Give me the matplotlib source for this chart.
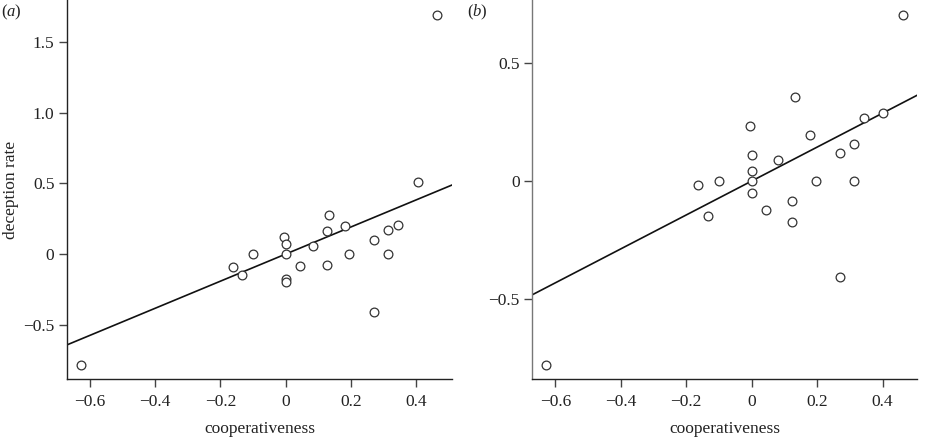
import matplotlib
matplotlib.use("Agg")
import matplotlib.pyplot as plt

plt.rcParams['font.family'] = ['Liberation Serif', 'DejaVu Serif']
plt.rcParams['mathtext.fontset'] = 'custom'
plt.rcParams['mathtext.rm'] = 'Liberation Serif'
plt.rcParams['mathtext.it'] = 'Liberation Serif:italic'
plt.rcParams['axes.unicode_minus'] = True

# Panel (a)
xa = [-0.627, -0.163, -0.133, -0.100, -0.005, 0.0, 0.0, 0.0, 0.0, 0.045, 0.082,
      0.125, 0.125, 0.133, 0.181, 0.195, 0.270, 0.270, 0.312, 0.313, 0.344, 0.405, 0.464]
ya = [-0.784, -0.092, -0.146, 0.0, 0.120, 0.073, 0.0, -0.174, -0.196, -0.082, 0.057,
      -0.075, 0.165, 0.278, 0.198, 0.0, 0.099, -0.407, 0.0, 0.172, 0.205, 0.507, 1.687]
slope_a, icpt_a = 0.958, 0.0

# Panel (b)
xb = [0.463, 0.131, -0.004, 0.402, 0.342, 0.179, 0.312, 0.269, 0.0, 0.080, 0.0,
      -0.165, -0.101, 0.0, 0.195, 0.312, 0.0, 0.123, 0.044, -0.134, 0.123, 0.269, -0.627]
yb = [0.704, 0.358, 0.232, 0.290, 0.268, 0.197, 0.159, 0.120, 0.112, 0.091, 0.041,
      -0.016, 0.0, 0.0, 0.0, 0.0, -0.051, -0.085, -0.123, -0.147, -0.174, -0.407, -0.782]
slope_b, icpt_b = 0.721, 0.0

xticks = [-0.6, -0.4, -0.2, 0, 0.2, 0.4]
xticklabels = ['\u22120.6', '\u22120.4', '\u22120.2', '0', '0.2', '0.4']
yticks_a = [-0.5, 0, 0.5, 1.0, 1.5]
yticklabels_a = ['\u22120.5', '0', '0.5', '1.0', '1.5']
yticks_b = [-0.5, 0, 0.5]
yticklabels_b = ['\u22120.5', '0', '0.5']

fig = plt.figure(figsize=(9.25, 4.4), dpi=100)
axa = fig.add_axes([0.0724, 0.1386, 0.4162, 0.8614])
axb = fig.add_axes([0.5755, 0.1386, 0.4162, 0.8614])

fs = 12.5

def style(ax, xlim, ylim, yt, ytl, leftcolor):
    ax.set_xlim(*xlim)
    ax.set_ylim(*ylim)
    for s in ['top', 'right']:
        ax.spines[s].set_visible(False)
    ax.spines['left'].set_color(leftcolor)
    ax.spines['bottom'].set_color('#222222')
    ax.spines['left'].set_linewidth(1.0)
    ax.spines['bottom'].set_linewidth(1.0)
    ax.set_xticks(xticks)
    ax.set_xticklabels(xticklabels, fontsize=fs, color='#222222')
    ax.set_yticks(yt)
    ax.set_yticklabels(ytl, fontsize=fs, color='#222222')
    ax.tick_params(direction='out', length=6, width=1.0, pad=3, color='#444444')
    ax.tick_params(axis='x', pad=5)
    ax.set_xlabel('cooperativeness', fontsize=fs, color='#222222', labelpad=8)
    ax.patch.set_visible(False)

style(axa, (-0.670, 0.509), (-0.883, 1.795), yticks_a, yticklabels_a, '#222222')
style(axb, (-0.670, 0.506), (-0.841, 0.769), yticks_b, yticklabels_b, '#777777')

axa.set_ylabel('deception rate', fontsize=fs, color='#222222', labelpad=3)

for ax, x, y, s, c in [(axa, xa, ya, slope_a, icpt_a), (axb, xb, yb, slope_b, icpt_b)]:
    ax.axline((0, c), slope=s, color='#111111', lw=1.2, zorder=2)
    ax.plot(x, y, 'o', ms=6.3, mfc='white', mec='#333333', mew=0.9, zorder=3, clip_on=False)

fig.text(1/925, 1 - 16/440, '($a$)', fontsize=12, color='#222222')
fig.text(467/925, 1 - 16/440, '($b$)', fontsize=12, color='#222222')

fig.savefig('out.png', dpi=100)
